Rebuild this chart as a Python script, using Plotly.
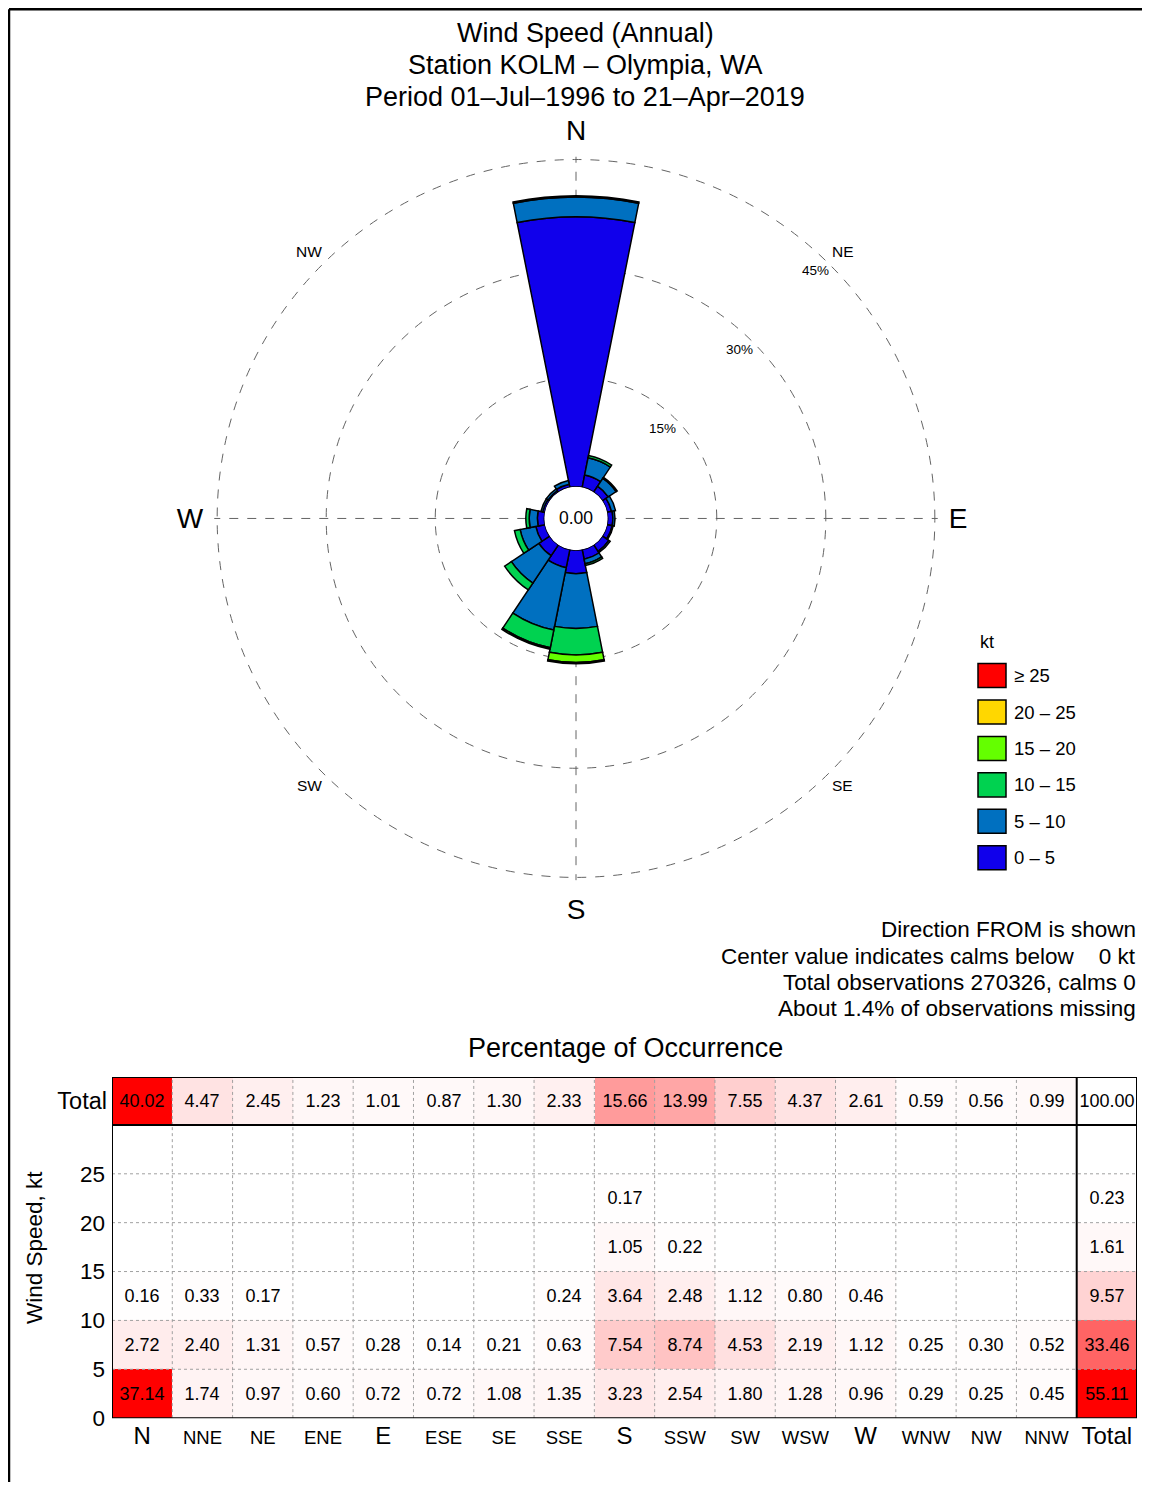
import plotly.graph_objects as go
import math

# ---------------- data ----------------
directions = ["N", "NNE", "NE", "ENE", "E", "ESE", "SE", "SSE",
              "S", "SSW", "SW", "WSW", "W", "WNW", "NW", "NNW"]
speed_bins = ["0 – 5", "5 – 10", "10 – 15", "15 – 20", "20 – 25", "≥ 25"]
speed_edges = [0, 5, 10, 15, 20, 25, 30]
bin_colors = ["rgb(16,0,235)", "rgb(0,112,192)", "rgb(0,210,80)",
              "rgb(100,255,0)", "rgb(255,215,0)", "rgb(255,0,0)"]

pct_0_5 = [37.14, 1.74, 0.97, 0.60, 0.72, 0.72, 1.08, 1.35,
           3.23, 2.54, 1.80, 1.28, 0.96, 0.29, 0.25, 0.45]
pct_5_10 = [2.72, 2.40, 1.31, 0.57, 0.28, 0.14, 0.21, 0.63,
            7.54, 8.74, 4.53, 2.19, 1.12, 0.25, 0.30, 0.52]
pct_10_15 = [0.16, 0.33, 0.17, None, None, None, None, 0.24,
             3.64, 2.48, 1.12, 0.80, 0.46, None, None, None]
pct_15_20 = [None] * 8 + [1.05, 0.22] + [None] * 6
pct_20_25 = [None] * 8 + [0.17] + [None] * 7
pct_25_up = [None] * 16
speed_rows = [pct_0_5, pct_5_10, pct_10_15, pct_15_20, pct_20_25, pct_25_up]

dir_totals = [40.02, 4.47, 2.45, 1.23, 1.01, 0.87, 1.30, 2.33,
              15.66, 13.99, 7.55, 4.37, 2.61, 0.59, 0.56, 0.99]
speed_totals = [55.11, 33.46, 9.57, 1.61, 0.23, None]
grand_total = 100.00

ring_vals = [15, 30, 45]
calm_value = "0.00"

title_lines = ["Wind Speed (Annual)", "Station KOLM – Olympia, WA",
               "Period 01–Jul–1996 to 21–Apr–2019"]
note_lines = ["Direction FROM is shown",
              "Center value indicates calms below\u00a0\u00a0\u00a0\u00a00 kt",
              "Total observations 270326, calms 0",
              "About 1.4% of observations missing"]

FONT = "Liberation Sans, Arial, Helvetica, sans-serif"
OFF = 8                      # default page body margin
SY = 0.9905                  # vertical scale of the page photograph
W, H = 1150 - 2 * OFF, 1487

def px(x):
    return (x - OFF) / W

def py(y):
    return 1 - (y / SY - OFF) / H

fig = go.Figure()

# ---------------- wind rose ----------------
thetas = [i * 22.5 for i in range(16)]
for name, vals, col in zip(speed_bins, speed_rows, bin_colors):
    r = [v if v is not None else 0 for v in vals]
    fig.add_trace(go.Barpolar(
        r=r, theta=thetas, width=[22.5] * 16, name=name,
        marker=dict(color=col, line=dict(color="black", width=1.5)),
        showlegend=False, subplot="polar"))

cx, cy = 576, 518
hole_px, r45_px = 32, 362
rmax = 45.4
R = hole_px + (r45_px - hole_px) * rmax / 45
cy_pg = cy / SY
grid_style = dict(gridcolor="rgb(100,100,100)", griddash="dash", gridwidth=1)
fig.update_layout(
    polar=dict(
        domain=dict(x=[px(cx - R), px(cx + R)],
                    y=[1 - (cy_pg + R - OFF) / H, 1 - (cy_pg - R - OFF) / H]),
        hole=hole_px / R,
        bgcolor="white",
        barmode="stack",
        angularaxis=dict(
            thetaunit="degrees", direction="clockwise", rotation=90,
            tickmode="array", tickvals=[0, 90, 180, 270],
            ticktext=["N", "E", "S", "W"],
            tickfont=dict(size=28, color="black", family=FONT),
            showline=False, ticks="outside", ticklen=5, tickcolor="white",
            showgrid=True, **grid_style),
        radialaxis=dict(
            range=[0, rmax], tickmode="array", tickvals=ring_vals,
            ticktext=["", "", ""], showline=False, ticks="",
            angle=45, **grid_style),
    )
)

def rose_xy(rr, deg):
    a = math.radians(deg)
    return px(cx + rr * math.sin(a)), py(cy - rr * math.cos(a))

annotations = []
# ring labels
for v in ring_vals:
    rr = hole_px + v * (r45_px - hole_px) / 45 - 17
    x, y = rose_xy(rr, 44)
    annotations.append(dict(x=x, y=y, xref="paper", yref="paper", text=f"{v}%",
                            showarrow=False, xanchor="center", yanchor="middle",
                            font=dict(size=13.5, color="black", family=FONT)))
# intercardinal labels
for lab, deg in [("NE", 45), ("SE", 135), ("SW", 225), ("NW", 315)]:
    x, y = rose_xy(377, deg)
    annotations.append(dict(x=x, y=y, xref="paper", yref="paper", text=lab,
                            showarrow=False, xanchor="center", yanchor="middle",
                            font=dict(size=15.5, color="black", family=FONT)))
# calm value
annotations.append(dict(x=px(cx), y=py(cy), xref="paper", yref="paper",
                        text=calm_value, showarrow=False, xanchor="center", yanchor="middle",
                        font=dict(size=17.5, color="black", family=FONT)))
# titles
for i, t in enumerate(title_lines):
    annotations.append(dict(x=px(585), y=py(33 + 32 * i), xref="paper", yref="paper",
                            text=t, showarrow=False, xanchor="center", yanchor="middle",
                            font=dict(size=27, color="black", family=FONT)))
# notes
for i, t in enumerate(note_lines):
    annotations.append(dict(x=px(1138), y=py(929 + 26.3 * i), xref="paper", yref="paper",
                            text=t, showarrow=False, xanchor="right", yanchor="middle",
                            font=dict(size=22.5, color="black", family=FONT)))
annotations.append(dict(x=px(625), y=py(1047), xref="paper", yref="paper",
                        text="Percentage of Occurrence", showarrow=False,
                        xanchor="center", yanchor="middle",
                        font=dict(size=27, color="black", family=FONT)))
annotations.append(dict(x=px(34), y=py(1247), xref="paper", yref="paper",
                        text="Wind Speed, kt", showarrow=False, textangle=-90,
                        xanchor="center", yanchor="middle",
                        font=dict(size=22.5, color="black", family=FONT)))

# manual legend
shapes = []
annotations.append(dict(x=px(978), y=py(641), xref="paper", yref="paper",
                        text="kt", showarrow=False, xanchor="left", yanchor="middle",
                        font=dict(size=18, color="black", family=FONT)))
for k, (name, col) in enumerate(zip(speed_bins[::-1], bin_colors[::-1])):
    yc = 675 + 36.4 * k
    shapes.append(dict(type="rect", xref="paper", yref="paper",
                       x0=px(978), x1=px(1006), y0=py(yc - 12), y1=py(yc + 12),
                       fillcolor=col, line=dict(color="black", width=1.5)))
    annotations.append(dict(x=px(1012), y=py(yc), xref="paper", yref="paper",
                            text=name, showarrow=False, xanchor="left", yanchor="middle",
                            font=dict(size=18.5, color="black", family=FONT)))

# ---------------- table ----------------
ycent = [(speed_edges[i] + speed_edges[i + 1]) / 2 for i in range(6)]
xs = list(range(16))

def fmt(v):
    return "" if v is None else f"{v:.2f}"

red_scale = [[0, "white"], [1, "rgb(255,0,0)"]]
cell_font = dict(size=18, color="black", family=FONT)
main_max = max(v for row in speed_rows for v in row if v is not None)
fig.add_trace(go.Heatmap(
    x=xs, y=ycent, z=speed_rows, text=[[fmt(v) for v in row] for row in speed_rows],
    texttemplate="%{text}", textfont=cell_font,
    colorscale=red_scale, zmin=0, zmax=main_max, showscale=False,
    xaxis="x", yaxis="y", hoverinfo="skip"))
tot_max = max(v for v in speed_totals if v is not None)
fig.add_trace(go.Heatmap(
    x=[16], y=ycent, z=[[v] for v in speed_totals], text=[[fmt(v)] for v in speed_totals],
    texttemplate="%{text}", textfont=cell_font,
    colorscale=red_scale, zmin=0, zmax=tot_max, showscale=False,
    xaxis="x", yaxis="y", hoverinfo="skip"))
fig.add_trace(go.Heatmap(
    x=xs, y=[0.5], z=[dir_totals], text=[[fmt(v) for v in dir_totals]],
    texttemplate="%{text}", textfont=cell_font,
    colorscale=red_scale, zmin=0, zmax=max(dir_totals), showscale=False,
    xaxis="x", yaxis="y2", hoverinfo="skip"))
fig.add_trace(go.Heatmap(
    x=[16], y=[0.5], z=[[0]], text=[[fmt(grand_total)]],
    texttemplate="%{text}", textfont=cell_font,
    colorscale=red_scale, zmin=0, zmax=1, showscale=False,
    xaxis="x", yaxis="y2", hoverinfo="skip"))

big = {"N", "E", "S", "W"}
xt = [f'<span style="font-size:24px">{d}</span>' if d in big else d for d in directions]
xt.append('<span style="font-size:24px">Total</span>')

fig.update_layout(
    xaxis=dict(domain=[px(112), px(1137)], range=[-0.5, 16.5], tickmode="array",
               tickvals=list(range(17)), ticktext=xt, showgrid=False, zeroline=False,
               tickfont=dict(size=18.5, color="black", family=FONT), ticks="",
               ticklabelstandoff=6, anchor="y", fixedrange=True),
    yaxis=dict(domain=[py(1417), py(1124)], range=[0, 30], tickmode="array",
               tickvals=speed_edges[:-1], showgrid=False, zeroline=False, ticks="",
               ticklabelstandoff=6,
               tickfont=dict(size=22.5, color="black", family=FONT), anchor="x"),
    yaxis2=dict(domain=[py(1124), py(1076)], range=[0, 1], tickmode="array",
                tickvals=[0.5], ticktext=["Total"], showgrid=False, zeroline=False,
                ticks="", ticklabelstandoff=4,
                tickfont=dict(size=23.5, color="black", family=FONT), anchor="x"),
)

dot = dict(color="rgb(160,160,160)", width=1, dash="dot")
for b in range(15):
    xb = b + 0.5
    shapes.append(dict(type="line", xref="x", yref="y", x0=xb, x1=xb, y0=0, y1=30, line=dot))
    shapes.append(dict(type="line", xref="x", yref="y2", x0=xb, x1=xb, y0=0, y1=1, line=dot))
for e in speed_edges[1:-1]:
    shapes.append(dict(type="line", xref="x", yref="y", x0=-0.5, x1=16.5, y0=e, y1=e, line=dot))
solid = dict(color="black", width=2)
shapes.append(dict(type="rect", xref="x", yref="y", x0=-0.5, x1=16.5, y0=0, y1=30, line=solid))
shapes.append(dict(type="rect", xref="x", yref="y2", x0=-0.5, x1=16.5, y0=0, y1=1, line=solid))
shapes.append(dict(type="line", xref="x", yref="y", x0=15.5, x1=15.5, y0=0, y1=30, line=solid))
shapes.append(dict(type="line", xref="x", yref="y2", x0=15.5, x1=15.5, y0=0, y1=1, line=solid))
# page frame (top and left)
top_y = 1 - 1.3 / H
shapes.append(dict(type="line", xref="paper", yref="paper", x0=px(9), x1=1, y0=top_y, y1=top_y,
                   line=dict(color="black", width=2.5)))
shapes.append(dict(type="line", xref="paper", yref="paper", x0=px(9), x1=px(9), y0=top_y, y1=0,
                   line=dict(color="black", width=2.5)))

fig.update_layout(
    width=W, height=H, margin=dict(l=0, r=0, t=0, b=0),
    paper_bgcolor="white", plot_bgcolor="white",
    font=dict(family=FONT, color="black"),
    showlegend=False, annotations=annotations, shapes=shapes,
)

fig.write_html("out.html")
